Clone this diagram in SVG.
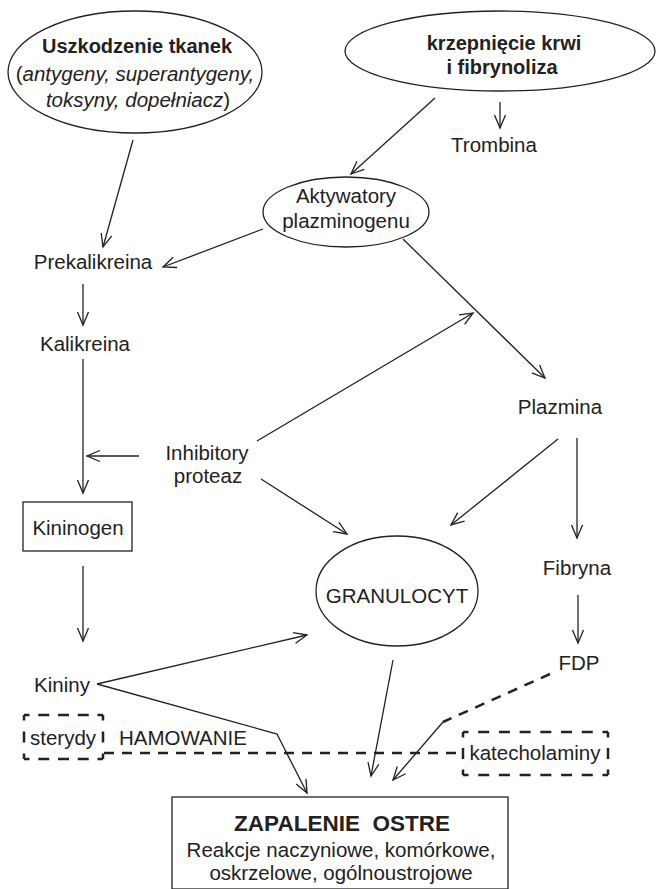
<svg xmlns="http://www.w3.org/2000/svg" width="656" height="889" viewBox="0 0 656 889">
<style>
text{font-family:"Liberation Sans",Arial,sans-serif;fill:#222;font-size:20.5px;text-anchor:middle}
.b{font-weight:bold}
.i{font-style:italic}
.shape{fill:#fff;stroke:#222;stroke-width:1.3}
.dl{fill:none;stroke:#222;stroke-width:2.5}
.c{fill:none;stroke:#222;stroke-width:1.3;marker-end:url(#ah)}
.dash{fill:none;stroke:#222;stroke-width:2.5;stroke-dasharray:10 8}
</style>
<defs>
<marker id="ah" markerUnits="userSpaceOnUse" markerWidth="16" markerHeight="14" viewBox="0 0 16 14" refX="14" refY="7" orient="auto">
<path d="M1,1.5 L14,7 L1,12.5" fill="none" stroke="#222" stroke-width="1.3"/>
</marker>
</defs>
<rect width="656" height="889" fill="#fff"/>
<g id="connectors">
<line class="c" x1="133" y1="140" x2="103" y2="247"/>
<line class="c" x1="435" y1="98" x2="351" y2="174"/>
<line class="c" x1="500" y1="102" x2="500" y2="128"/>
<line class="c" x1="263" y1="229" x2="163" y2="267"/>
<line class="c" x1="83" y1="284" x2="83" y2="325"/>
<line class="c" x1="83" y1="359" x2="83" y2="493"/>
<line class="c" x1="139" y1="456" x2="87" y2="456"/>
<line class="c" x1="257" y1="441" x2="473" y2="313"/>
<line class="c" x1="403" y1="239" x2="545" y2="378"/>
<line class="c" x1="261" y1="479" x2="347" y2="534"/>
<line class="c" x1="558" y1="439" x2="451" y2="525"/>
<line class="c" x1="577" y1="438" x2="577" y2="538"/>
<line class="c" x1="578" y1="595" x2="578" y2="643"/>
<line class="c" x1="83" y1="566" x2="83" y2="641"/>
<line class="c" x1="97" y1="684" x2="307" y2="635"/>
<polyline class="c" points="97,684 277,734 307,793"/>
<line class="c" x1="393" y1="660" x2="371" y2="776"/>
<line class="dash" x1="550" y1="674" x2="443" y2="722"/>
<line class="c" x1="443" y1="722" x2="393" y2="780"/>
<line class="dash" x1="104" y1="753" x2="462" y2="753"/>
</g>
<g id="uszkodzenie">
<ellipse class="shape" cx="135" cy="72" rx="127" ry="61"/>
<text class="b" x="137" y="53" style="font-size:20px">Uszkodzenie tkanek</text>
<text x="135" y="81">(<tspan class="i">antygeny, superantygeny,</tspan></text>
<text x="138" y="107"><tspan class="i">toksyny, dopełniacz</tspan>)</text>
</g>
<g id="krzepniecie">
<ellipse class="shape" cx="500" cy="51" rx="155" ry="40"/>
<text class="b" x="504" y="50" style="font-size:20px">krzepnięcie krwi</text>
<text class="b" x="502" y="74" style="font-size:20px">i fibrynoliza</text>
</g>
<g id="trombina"><text x="494" y="152">Trombina</text></g>
<g id="aktywatory">
<ellipse class="shape" cx="346" cy="212" rx="83" ry="35"/>
<text x="346" y="203">Aktywatory</text>
<text x="346" y="228">plazminogenu</text>
</g>
<g id="prekalikreina"><text x="93" y="269">Prekalikreina</text></g>
<g id="kalikreina"><text x="85" y="351">Kalikreina</text></g>
<g id="inhibitory">
<text x="207" y="460">Inhibitory</text>
<text x="208" y="483">proteaz</text>
</g>
<g id="plazmina"><text x="560" y="414">Plazmina</text></g>
<g id="kininogen">
<rect class="shape" x="23" y="502" width="109" height="49"/>
<text x="78" y="535">Kininogen</text>
</g>
<g id="granulocyt">
<ellipse class="shape" cx="397" cy="591" rx="81" ry="55"/>
<text x="397" y="603">GRANULOCYT</text>
</g>
<g id="fibryna"><text x="577" y="575">Fibryna</text></g>
<g id="fdp"><text x="579" y="670">FDP</text></g>
<g id="kininy"><text x="62" y="692">Kininy</text></g>
<g id="sterydy">
<line class="dl" x1="24" y1="715" x2="103" y2="715" style="stroke-dasharray:11 8.75;stroke-dashoffset:5.5"/>
<line class="dl" x1="24" y1="759" x2="103" y2="759" style="stroke-dasharray:11 8.75;stroke-dashoffset:5.5"/>
<line class="dl" x1="24" y1="715" x2="24" y2="759" style="stroke-dasharray:11 11;stroke-dashoffset:5.5"/>
<line class="dl" x1="103" y1="715" x2="103" y2="759" style="stroke-dasharray:11 11;stroke-dashoffset:5.5"/>
<text x="63" y="745">sterydy</text>
</g>
<g id="hamowanie"><text x="183" y="745">HAMOWANIE</text></g>
<g id="katecholaminy">
<line class="dl" x1="463" y1="732" x2="608" y2="732" style="stroke-dasharray:11 9.71;stroke-dashoffset:5.5"/>
<line class="dl" x1="463" y1="775" x2="608" y2="775" style="stroke-dasharray:11 9.71;stroke-dashoffset:5.5"/>
<line class="dl" x1="463" y1="732" x2="463" y2="775" style="stroke-dasharray:11 10.5;stroke-dashoffset:5.5"/>
<line class="dl" x1="608" y1="732" x2="608" y2="775" style="stroke-dasharray:11 10.5;stroke-dashoffset:5.5"/>
<text x="535" y="760">katecholaminy</text>
</g>
<g id="zapalenie">
<rect class="shape" x="172" y="797" width="336" height="92"/>
<text class="b" x="342" y="831" style="font-size:22.5px" xml:space="preserve">ZAPALENIE  OSTRE</text>
<text x="341" y="857">Reakcje naczyniowe, komórkowe,</text>
<text x="341" y="880">oskrzelowe, ogólnoustrojowe</text>
</g>
</svg>
